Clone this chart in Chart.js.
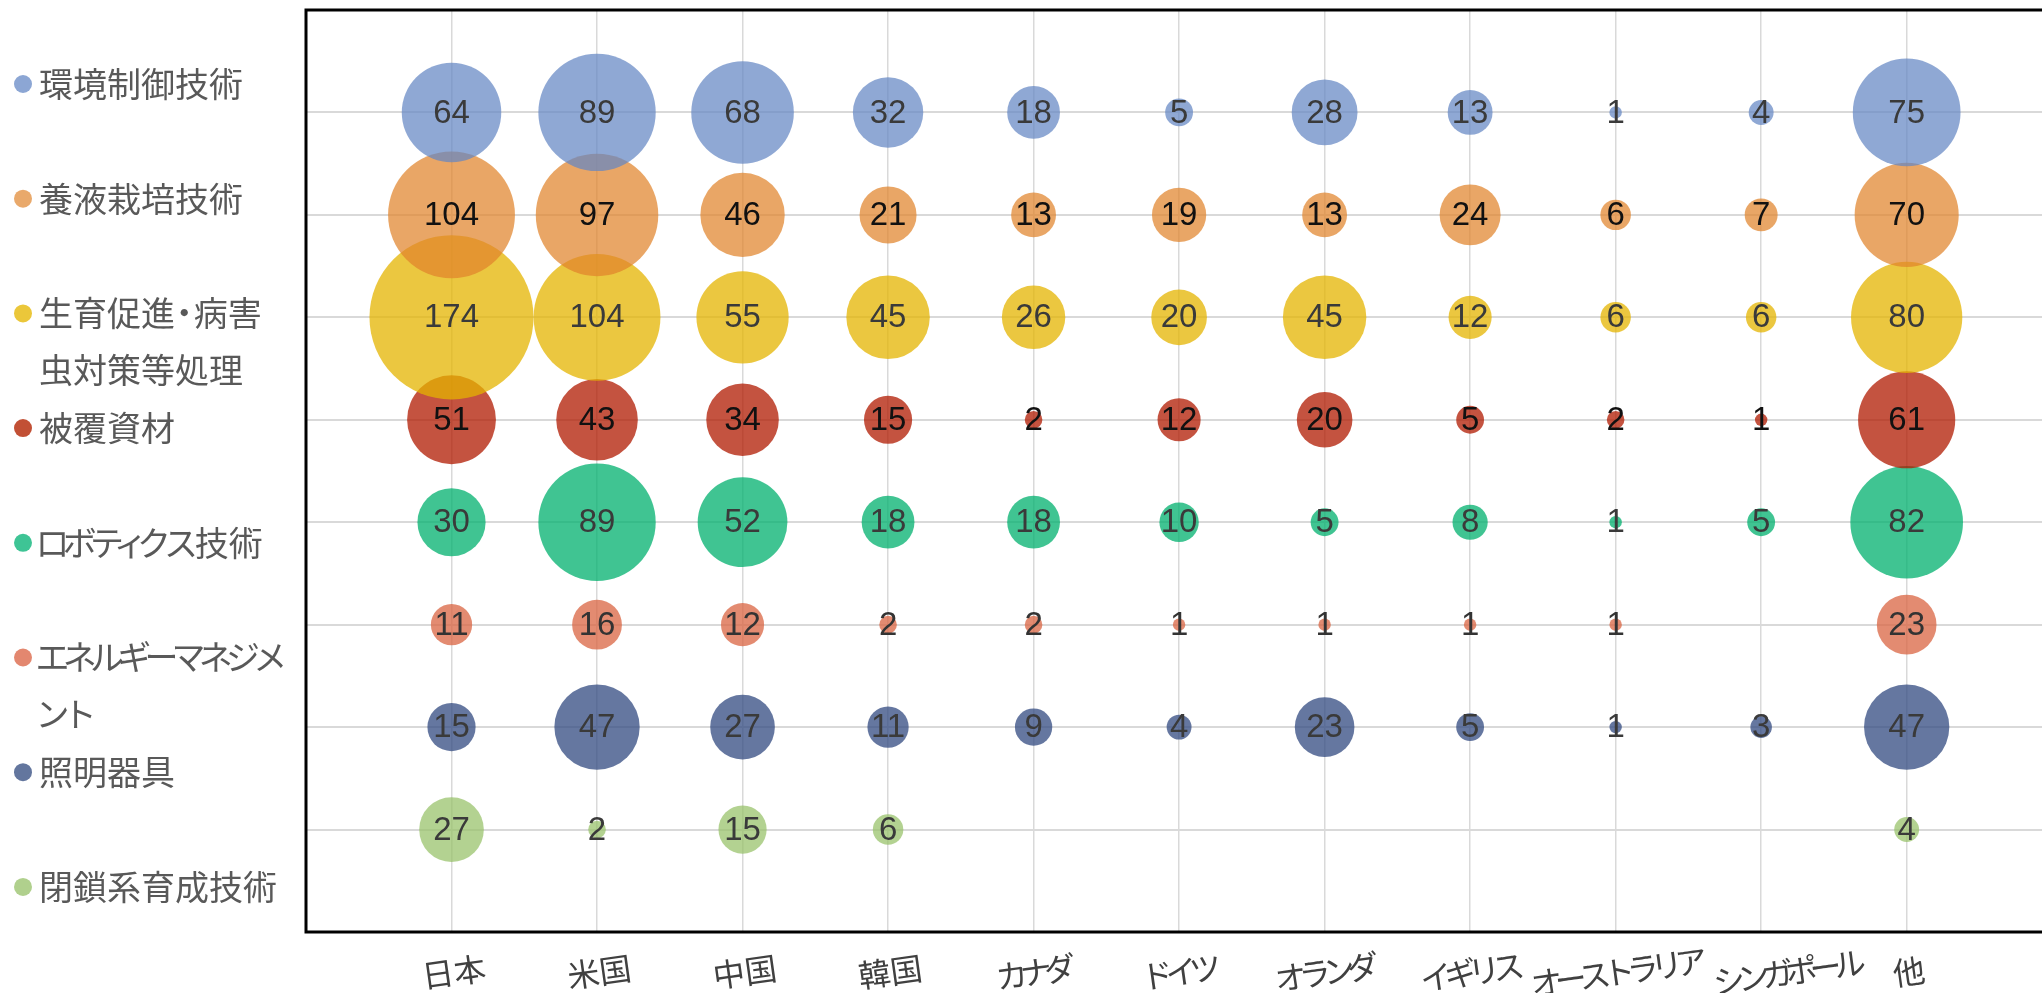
<!DOCTYPE html>
<html>
<head>
<meta charset="utf-8">
<script src="https://cdn.jsdelivr.net/npm/chart.js@4.4.1/dist/chart.umd.min.js"></script>
<style>
  html, body { margin: 0; padding: 0; background: #ffffff; overflow: hidden; }
  canvas { display: block; }
</style>
</head>
<body>
<canvas id="chart" width="2042" height="993"></canvas>
<script>
// Countries along the horizontal axis
const countries = ['日本', '米国', '中国', '韓国', 'カナダ', 'ドイツ', 'オランダ', 'イギリス', 'オーストラリア', 'シンガポール', '他'];

// Technology fields, top row first (legend text split into its display lines)
const technologyLines = [
  ['環境制御技術'],
  ['養液栽培技術'],
  ['生育促進・病害', '虫対策等処理'],
  ['被覆資材'],
  ['ロボティクス技術'],
  ['エネルギーマネジメ', 'ント'],
  ['照明器具'],
  ['閉鎖系育成技術']
];

// Counts per country (null = no entry)
const envControl     = [64, 89, 68, 32, 18, 5, 28, 13, 1, 4, 75];
const hydroponics    = [104, 97, 46, 21, 13, 19, 13, 24, 6, 7, 70];
const growthPest     = [174, 104, 55, 45, 26, 20, 45, 12, 6, 6, 80];
const coverMaterial  = [51, 43, 34, 15, 2, 12, 20, 5, 2, 1, 61];
const robotics       = [30, 89, 52, 18, 18, 10, 5, 8, 1, 5, 82];
const energyMgmt     = [11, 16, 12, 2, 2, 1, 1, 1, 1, null, 23];
const lighting       = [15, 47, 27, 11, 9, 4, 23, 5, 1, 3, 47];
const closedSystem   = [27, 2, 15, 6, null, null, null, null, null, null, 4];

const seriesValues = [envControl, hydroponics, growthPest, coverMaterial, robotics, energyMgmt, lighting, closedSystem];

// Fill colours (drawn translucent) and legend dot colours
const fillColors = [
  'rgba(100,135,196,0.72)',
  'rgba(224,132,43,0.72)',
  'rgba(228,180,0,0.75)',
  'rgba(176,26,0,0.75)',
  'rgba(0,176,110,0.75)',
  'rgba(218,100,66,0.75)',
  'rgba(50,74,128,0.75)',
  'rgba(150,192,103,0.72)'
];
const dotColors = ['#8ca6d4', '#e9a96b', '#ebc73a', '#c25035', '#3ec495', '#e3876f', '#63769e', '#b0d08d'];
const valueTextColors = ['#3a3a3a', '#111111', '#3a3a3a', '#111111', '#3a3a3a', '#333333', '#3a3a3a', '#3a3a3a'];

const BUBBLE_SCALE = 6.22;   // radius in px per sqrt(count): area is proportional to the count
const X_MAX = 11.93;
const Y_MAX = 9;

const rowCount = seriesValues.length;

const datasets = seriesValues.map((vals, i) => ({
  label: technologyLines[i].join(''),
  data: vals
    .map((v, j) => (v == null ? null : { x: j + 1, y: rowCount - i, r: BUBBLE_SCALE * Math.sqrt(v), v: v }))
    .filter(p => p !== null),
  backgroundColor: fillColors[i],
  borderWidth: 0,
  hoverBorderWidth: 0
}));

// Narrower advance for kana so lines read like a proportional Japanese UI font
function advanceOf(ch, em, kana) {
  if (/[\u30A1\u30A3\u30A5\u30A7\u30A9\u30C3\u30E3\u30E5\u30E7\u30EE]/.test(ch)) return em * (kana - 0.22);
  if (/[\u3041-\u3096\u30A1-\u30FA\u30FC]/.test(ch)) return em * kana;
  if (ch === '・') return em * 0.55;
  return em;
}
function spacedWidth(text, em, kana) {
  let w = 0;
  for (const ch of text) w += advanceOf(ch, em, kana);
  return w;
}
function drawSpaced(ctx, text, x, y, em, kana) {
  let cx = x;
  ctx.textAlign = 'center';
  for (const ch of text) {
    const a = advanceOf(ch, em, kana);
    ctx.fillText(ch, cx + a / 2, y);
    cx += a;
  }
}

const JP_FONT = '"Noto Sans CJK JP", "Noto Sans", sans-serif';

// Black frame on the left, top and bottom of the plot area
const framePlugin = {
  id: 'frame',
  beforeDatasetsDraw(chart) {
    const { ctx, chartArea: a } = chart;
    ctx.save();
    ctx.strokeStyle = '#000000';
    ctx.lineWidth = 3;
    ctx.beginPath();
    ctx.moveTo(chart.width, a.top);
    ctx.lineTo(a.left, a.top);
    ctx.lineTo(a.left, a.bottom);
    ctx.lineTo(chart.width, a.bottom);
    ctx.stroke();
    ctx.restore();
  }
};

// Count written at the centre of each bubble
const valueLabelPlugin = {
  id: 'valueLabels',
  afterDatasetsDraw(chart) {
    const { ctx } = chart;
    ctx.save();
    ctx.font = '33px "Liberation Sans", Arial, sans-serif';
    ctx.textAlign = 'center';
    ctx.textBaseline = 'middle';
    chart.data.datasets.forEach((ds, i) => {
      const meta = chart.getDatasetMeta(i);
      ctx.fillStyle = valueTextColors[i];
      meta.data.forEach((el, k) => {
        ctx.fillText(String(ds.data[k].v), el.x, el.y + 1);
      });
    });
    ctx.restore();
  }
};

// Legend of technology fields at the left
const sideLegendPlugin = {
  id: 'sideLegend',
  afterDraw(chart) {
    const { ctx } = chart;
    const em = 34;
    ctx.save();
    ctx.font = em + 'px ' + JP_FONT;
    ctx.textBaseline = 'middle';
    technologyLines.forEach((lines, i) => {
      const y = 84 + i * 114.7;
      ctx.fillStyle = dotColors[i];
      ctx.beginPath();
      ctx.arc(23, y, 9, 0, Math.PI * 2);
      ctx.fill();
      ctx.fillStyle = '#595959';
      lines.forEach((line, l) => drawSpaced(ctx, line, 39, y + l * 57, em, 0.8));
    });
    ctx.restore();
  }
};

// Slightly tilted country names under each column; a name that would run into
// its left neighbour is pushed to the right
const countryLabelPlugin = {
  id: 'countryLabels',
  afterDraw(chart) {
    const { ctx } = chart;
    const xScale = chart.scales.x;
    const em = 32;
    const angle = -8 * Math.PI / 180;
    const gap = 14;
    let prevRight = -Infinity;
    ctx.save();
    ctx.font = em + 'px ' + JP_FONT;
    ctx.fillStyle = '#404040';
    ctx.textBaseline = 'top';
    countries.forEach((name, j) => {
      let px = xScale.getPixelForValue(j + 1);
      const w = spacedWidth(name, em, 0.76);
      const half = (w / 2) * Math.cos(angle);
      if (px - half < prevRight + gap) px = prevRight + gap + half;
      prevRight = px + half;
      ctx.save();
      ctx.translate(px, 956);
      ctx.rotate(angle);
      drawSpaced(ctx, name, -w / 2, 0, em, 0.76);
      ctx.restore();
    });
    ctx.restore();
  }
};

const gridColorFor = (lo, hi) => (c) => {
  const v = c.tick ? c.tick.value : null;
  return (v !== null && Number.isInteger(v) && v >= lo && v <= hi) ? '#d9d9d9' : 'rgba(0,0,0,0)';
};

new Chart(document.getElementById('chart').getContext('2d'), {
  type: 'bubble',
  data: { datasets },
  options: {
    responsive: false,
    animation: false,
    devicePixelRatio: 1,
    events: [],
    layout: { autoPadding: false, padding: { left: 306, top: 10, right: 0, bottom: 61 } },
    plugins: {
      legend: { display: false },
      tooltip: { enabled: false }
    },
    scales: {
      x: {
        type: 'linear',
        min: 0,
        max: X_MAX,
        ticks: { display: false, stepSize: 1 },
        grid: { drawTicks: false, color: gridColorFor(1, countries.length), lineWidth: 1.5 },
        border: { display: false }
      },
      y: {
        type: 'linear',
        min: 0,
        max: Y_MAX,
        ticks: { display: false, stepSize: 1 },
        grid: { drawTicks: false, color: gridColorFor(1, rowCount), lineWidth: 2 },
        border: { display: false }
      }
    }
  },
  plugins: [framePlugin, valueLabelPlugin, sideLegendPlugin, countryLabelPlugin]
});
</script>
</body>
</html>
